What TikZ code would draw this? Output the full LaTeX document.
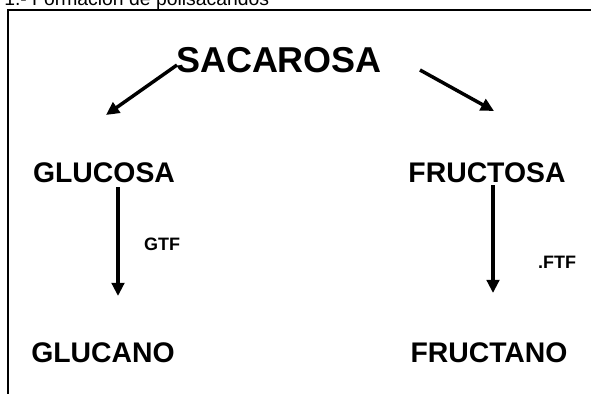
\documentclass[tikz,border=0pt]{standalone}
\usepackage{fontspec}
\setmainfont{Liberation Sans}
\usetikzlibrary{arrows.meta}

\tikzset{
  sugar/.style={font=\bfseries\fontsize{20.5}{24}\selectfont, inner sep=0pt},
  enzyme/.style={font=\bfseries\fontsize{13}{15}\selectfont, inner sep=0pt},
  conv/.style={line width=2.5pt, -{Triangle[width=9pt,length=9.5pt]}},
}

\begin{document}
\begin{tikzpicture}[x=0.0254cm,y=-0.0254cm]
\useasboundingbox (0,0) rectangle (591,394);
\clip (0,0) rectangle (591,394);

\node [anchor=base west, inner sep=0pt, font=\fontsize{14}{16}\selectfont] (titulo) at (4,6) {1.- Formación de polisacáridos};
\draw [line width=1.8pt] (8,394) -- (8,10) -- (591,10);

\node [sugar, font=\bfseries\fontsize{26}{30}\selectfont] (sacarosa) at (279,60) {SACAROSA};
\node [sugar] (glucosa)  at (104,173) {GLUCOSA};
\node [sugar] (fructosa) at (487,173) {FRUCTOSA};
\node [sugar] (glucano)  at (103,353) {GLUCANO};
\node [sugar] (fructano) at (489,353) {FRUCTANO};
\node [enzyme] (gtf) at (162,244) {GTF};
\node [enzyme] (ftf) at (557,262) {.FTF};

\coordinate (sacL) at (177,65);
\coordinate (sacR) at (420,70);
\coordinate (gluIn) at (106,115);
\coordinate (fruIn) at (494,111);
\coordinate (gluOut) at (118,187);
\coordinate (ganIn) at (118,296);
\coordinate (fruOut) at (493,185);
\coordinate (fanIn) at (493,293);

\draw [conv] (sacL) -- (gluIn);
\draw [conv] (sacR) -- (fruIn);
\draw [conv] (gluOut) -- (ganIn);
\draw [conv] (fruOut) -- (fanIn);

\end{tikzpicture}
\end{document}
